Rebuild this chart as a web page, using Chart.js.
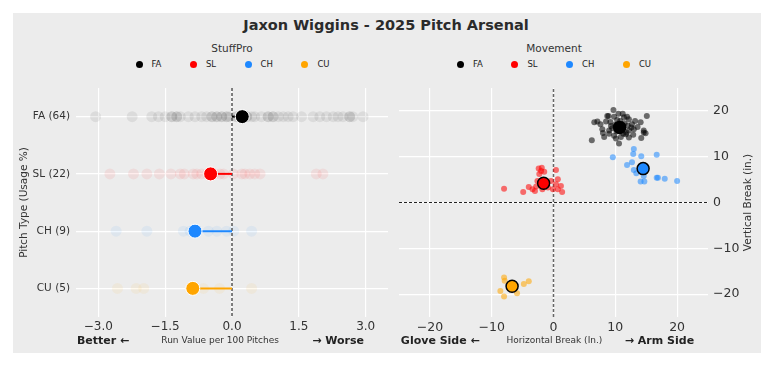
<!DOCTYPE html>
<html>
<head>
<meta charset="utf-8">
<script src="https://cdn.jsdelivr.net/npm/chart.js@4.4.1/dist/chart.umd.min.js"></script>
<style>
  body { margin: 0; background: #fff; font-family: "DejaVu Sans", sans-serif; color: #333; }
  #panel { position: absolute; left: 13px; top: 13px; width: 748px; height: 340px; background: #ececec; }
  #title { position: absolute; left: 0; top: 3px; width: 746px; text-align: center; font-weight: bold; font-size: 14.5px; line-height: 18px; color: #2b2b2b; }
  .legtitle { position: absolute; top: 29px; font-size: 10.5px; line-height: 12px; transform: translateX(-50%); white-space: nowrap; }
  .legrow { position: absolute; top: 46px; display: flex; gap: 28.5px; font-size: 8.5px; line-height: 10px; color: #222; }
  .legrow span.item { display: flex; align-items: center; }
  .legrow span.dot { width: 7px; height: 7px; border-radius: 50%; margin-right: 9px; }
  canvas { position: absolute; top: 67px; }
</style>
</head>
<body>
<div id="panel">
  <div id="title">Jaxon Wiggins - 2025 Pitch Arsenal</div>
  <div class="legtitle" style="left:219px">StuffPro</div>
  <div class="legrow" id="leg1" style="left:122.5px"></div>
  <div class="legtitle" style="left:541px">Movement</div>
  <div class="legrow" id="leg2" style="left:444px"></div>
  <canvas id="rvChart" width="380" height="273" style="left:0"></canvas>
  <canvas id="mvChart" width="368" height="273" style="left:380px"></canvas>
</div>
<script>
// pitch types and usage %
const pitchTypes = ["FA", "SL", "CH", "CU"];
const usage = [64, 22, 9, 5];

// StuffPro run value per 100 pitches (individual dots + mean)
const faRV = [-3.06, -2.24, -1.80, -1.65, -1.50, -1.35, -1.35, -1.24, -1.24, -1.16, -0.98, -0.83, -0.68, -0.57,
  -0.45, -0.45, -0.34, -0.34, -0.23, -0.23, -0.12, -0.12, -0.05, 0.10, 0.10, 0.33, 0.33, 0.44, 0.51, 0.66,
  0.81, 0.81, 0.92, 0.92, 1.04, 1.15, 1.26, 1.37, 1.56, 1.82, 1.97, 2.12, 2.27, 2.38, 2.49, 2.64, 2.64, 2.71, 2.94];
const slRV = [-2.74, -2.21, -1.91, -1.63, -1.37, -1.16, -1.07, -0.87, -0.79, -0.68, -0.55, -0.40, -0.27, -0.19,
  0.03, 0.22, 0.29, 0.40, 0.51, 0.63, 1.89, 2.04];
const chRV = [-2.60, -1.91, -1.09, -0.94, -0.53, -0.34, -0.12, 0.04, 0.44];
const cuRV = [-2.57, -2.15, -1.98, -0.64, -0.28, 0.44];
const rvMeans = [0.23, -0.48, -0.83, -0.88];

// movement: [horizontal break, vertical break] in inches
const faMove = [[9.7,20.2],[10.5,19.4],[11.2,19.4],[8.9,18.9],[9.8,18.7],[11.4,18.6],[12.2,18.2],[15.1,18.9],
  [6.6,17.5],[7.1,17.7],[7.6,17.1],[8.5,17.7],[9.3,16.7],[12.7,17.1],[14.1,17.5],[7.9,16.0],[9.0,15.7],
  [12.2,15.7],[13.0,16.0],[14.6,15.7],[14.9,15.1],[9.8,14.6],[10.9,14.3],[12.2,14.2],[8.2,14.3],[10.6,12.9],
  [6.2,13.6],[11.7,14.9],[14.2,14.1],[14.6,15.3],[8.7,18.9],[10.0,17.0],[11.0,16.0],[11.5,17.3],[9.5,16.2],
  [10.2,15.5],[12.0,16.8],[11.8,15.3],[10.8,17.8],[9.2,17.6],[12.6,16.4],[10.3,18.0],[11.3,15.0],[9.0,15.0],
  [13.2,17.8],[8.0,15.2],[12.9,14.8],[10.1,14.0],[11.9,18.7],[13.6,16.5]];
const slMove = [[-8.0,3.0],[-4.9,2.3],[-4.0,3.4],[-3.4,2.9],[-2.8,3.5],[-2.4,7.4],[-2.0,6.9],[-1.9,7.6],
  [-2.3,6.2],[-1.5,6.7],[0.4,7.1],[-0.4,4.7],[-0.1,2.9],[0.7,5.1],[0.4,4.0],[1.2,3.6],[0.7,2.9],[1.4,2.3],
  [-0.9,3.3],[-2.6,4.7],[-1.8,2.9],[-3.0,2.5]];
const chMove = [[9.6,9.9],[13.0,11.7],[12.9,10.6],[14.2,10.1],[16.7,10.4],[11.9,8.2],[12.7,8.8],[13.0,7.1],
  [13.4,6.4],[14.6,5.8],[14.1,4.6],[14.7,4.6],[16.7,5.4],[16.9,5.4],[18.0,5.2],[20.0,4.7]];
const cuMove = [[-8.0,-16.4],[-7.9,-17.1],[-8.6,-19.3],[-8.0,-20.5],[-5.9,-19.8],[-4.8,-17.8],[-4.0,-17.2]];
const moveMeans = [[10.7,16.4],[-1.6,4.2],[14.5,7.4],[-6.7,-18.3]];

// tick labels
const rvTicks = [-3, -1.5, 0, 1.5, 3];
const moveTicks = [-20, -10, 0, 10, 20];

const rvPoints = [faRV, slRV, chRV, cuRV];
const movePoints = [faMove, slMove, chMove, cuMove];
const colors = ["0,0,0", "255,0,0", "30,136,255", "255,165,0"];
const rgba = (c, a) => `rgba(${c},${a})`;
const minus = s => String(s).replace("-", "\u2212");

Chart.defaults.font.family = '"DejaVu Sans", sans-serif';
Chart.defaults.color = "#333";

// legends (html)
for (const id of ["leg1", "leg2"]) {
  document.getElementById(id).innerHTML = pitchTypes.map((p, i) =>
    `<span class="item"><span class="dot" style="background:${rgba(colors[i], 1)}"></span>${p}</span>`).join("");
}

// bottom "better / worse" labels and rotated right-side title
const sideLabels = {
  id: "sideLabels",
  afterDraw(chart, args, o) {
    const { ctx, chartArea: a } = chart;
    const w = a.right - a.left;
    ctx.save();
    ctx.textBaseline = "middle";
    ctx.fillStyle = "#222";
    ctx.font = 'bold 11px "DejaVu Sans"';
    ctx.textAlign = "left";
    ctx.fillText(o.left, a.left + o.lx * w, o.y);
    ctx.textAlign = "right";
    ctx.fillText(o.right, a.left + o.rx * w, o.y);
    ctx.fillStyle = "#333";
    ctx.font = '9px "DejaVu Sans"';
    ctx.textAlign = "center";
    ctx.fillText(o.mid, a.left + o.mx * w, o.y);
    if (o.yTitle) {
      ctx.translate(o.yTitleX, (a.top + a.bottom) / 2);
      ctx.rotate(-Math.PI / 2);
      ctx.font = '10.5px "DejaVu Sans"';
      ctx.fillText(o.yTitle, 0, 0);
    }
    ctx.restore();
  }
};

const gridOpts = { color: "#ffffff", lineWidth: 1.2, drawTicks: false };
// keep the y scale from reserving room for half a tick label above the plot
const noLabelOverhang = s => { s.paddingTop = 0; s.paddingBottom = 0; };

// ---- left: StuffPro ----
const rvSets = [];
pitchTypes.forEach((p, i) => {
  rvSets.push({ data: rvPoints[i].map(v => ({ x: v, y: i })), backgroundColor: rgba(colors[i], 0.07),
    borderWidth: 0, pointRadius: 5.5, order: 4 });
  rvSets.push({ data: [{ x: rvMeans[i], y: i }, { x: 0, y: i }], showLine: true, borderColor: rgba(colors[i], 1),
    borderWidth: 2, pointRadius: 0, order: 1 });
  rvSets.push({ data: [{ x: rvMeans[i], y: i }], backgroundColor: rgba(colors[i], 1), borderColor: "#fff",
    borderWidth: 1, pointRadius: 7, order: 0 });
});
rvSets.push({ data: [{ x: 0, y: -0.5 }, { x: 0, y: 3.5 }], showLine: true, borderColor: "#555",
  borderDash: [3, 2], borderWidth: 1.5, pointRadius: 0, order: 2 });

new Chart(document.getElementById("rvChart"), {
  type: "scatter",
  data: { datasets: rvSets },
  options: {
    responsive: false, animation: false,
    layout: { autoPadding: false, padding: { top: 8, right: 5, left: 0, bottom: 0 } },
    plugins: {
      legend: { display: false }, tooltip: { enabled: false },
      sideLabels: { left: "Better \u2190", right: "\u2192 Worse", mid: "Run Value per 100 Pitches",
        lx: 0.003, rx: 0.923, mx: 0.462, y: 261 }
    },
    scales: {
      x: {
        min: -3.5, max: 3.5,
        afterBuildTicks: s => { s.ticks = rvTicks.map(v => ({ value: v })); },
        afterFit: s => { s.height = 36; },
        ticks: { callback: v => minus(v.toFixed(1)), font: { size: 12 }, padding: 3 },
        grid: gridOpts, border: { display: false }
      },
      y: {
        min: -0.5, max: 3.5, reverse: true,
        afterBuildTicks: s => { s.ticks = pitchTypes.map((p, i) => ({ value: i })); },
        afterFit: s => { s.width = 63; noLabelOverhang(s); },
        ticks: { callback: v => `${pitchTypes[v]} (${usage[v]})`, font: { size: 10.5 }, padding: 6 },
        title: { display: true, text: "Pitch Type (Usage %)", font: { size: 10.5 }, padding: { top: 5, bottom: 0 } },
        grid: gridOpts, border: { display: false }
      }
    }
  },
  plugins: [sideLabels]
});

// ---- right: Movement ----
const mvSets = [];
pitchTypes.forEach((p, i) => {
  mvSets.push({ data: movePoints[i].map(([h, v]) => ({ x: h, y: v })), backgroundColor: rgba(colors[i], 0.55),
    borderWidth: 0, pointRadius: 3, order: 3 });
  mvSets.push({ data: [{ x: moveMeans[i][0], y: moveMeans[i][1] }], backgroundColor: rgba(colors[i], 1),
    borderColor: "#000", borderWidth: 1.5, pointRadius: 6, order: 0 });
});
mvSets.push({ data: [{ x: -25, y: 0 }, { x: 25, y: 0 }], showLine: true, borderColor: "#222",
  borderDash: [3, 2], borderWidth: 1, pointRadius: 0, order: 5 });
mvSets.push({ data: [{ x: 0, y: -25 }, { x: 0, y: 25 }], showLine: true, borderColor: "#666",
  borderDash: [3, 2], borderWidth: 1.5, pointRadius: 0, order: 5 });

new Chart(document.getElementById("mvChart"), {
  type: "scatter",
  data: { datasets: mvSets },
  options: {
    responsive: false, animation: false,
    layout: { autoPadding: false, padding: { top: 8, right: 0, left: 6, bottom: 0 } },
    plugins: {
      legend: { display: false }, tooltip: { enabled: false },
      sideLabels: { left: "Glove Side \u2190", right: "\u2192 Arm Side", mid: "Horizontal Break (In.)",
        lx: 0.006, rx: 0.955, mx: 0.503, y: 261, yTitle: "Vertical Break (in.)", yTitleX: 355 }
    },
    scales: {
      x: {
        min: -25, max: 25,
        afterBuildTicks: s => { s.ticks = moveTicks.map(v => ({ value: v })); },
        afterFit: s => { s.height = 36; },
        ticks: { callback: v => minus(v), font: { size: 12.5 }, padding: 3 },
        grid: gridOpts, border: { display: false }
      },
      y: {
        position: "right", min: -25, max: 25,
        afterBuildTicks: s => { s.ticks = moveTicks.map(v => ({ value: v })); },
        afterFit: s => { s.width = 53; noLabelOverhang(s); },
        ticks: { callback: v => minus(v), font: { size: 12.5 }, padding: 5 },
        grid: gridOpts, border: { display: false }
      }
    }
  },
  plugins: [sideLabels]
});
</script>
</body>
</html>
